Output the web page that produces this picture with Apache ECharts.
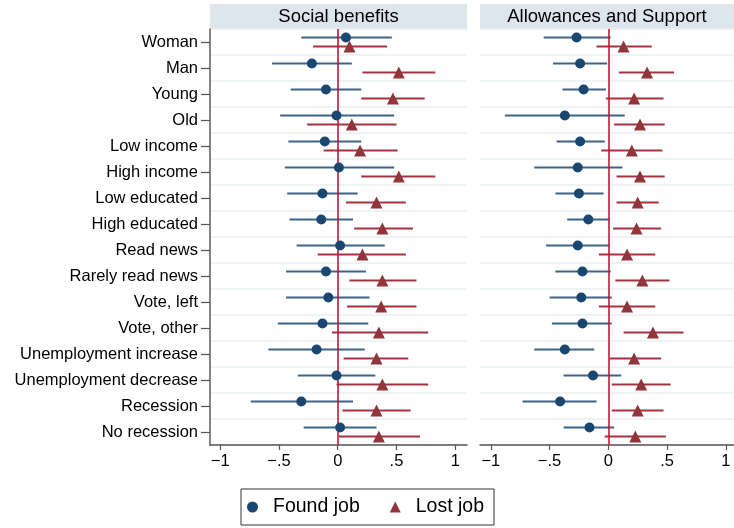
<!DOCTYPE html>
<html>
<head>
<meta charset="utf-8">
<script src="https://cdn.jsdelivr.net/npm/echarts@6/dist/echarts.min.js"></script>
<style>
  html, body { margin: 0; padding: 0; background: #fff; }
  #chart { width: 734px; height: 528px; }
</style>
</head>
<body>
<div id="chart"></div>
<script>
// categories, top to bottom
var categories = ['Woman', 'Man', 'Young', 'Old', 'Low income', 'High income', 'Low educated',
    'High educated', 'Read news', 'Rarely read news', 'Vote, left', 'Vote, other',
    'Unemployment increase', 'Unemployment decrease', 'Recession', 'No recession'];
var panelTitles = ['Social benefits', 'Allowances and Support'];
var tickValues = [-1, -0.5, 0, 0.5, 1];

// Social benefits
var socFoundEst = [0.07, -0.22, -0.10, -0.01, -0.11, 0.01, -0.13, -0.14, 0.02, -0.10, -0.08, -0.13, -0.18, -0.01, -0.31, 0.02];
var socFoundLo = [-0.31, -0.56, -0.40, -0.49, -0.42, -0.45, -0.43, -0.41, -0.35, -0.44, -0.44, -0.51, -0.59, -0.34, -0.74, -0.29];
var socFoundHi = [0.46, 0.12, 0.20, 0.48, 0.20, 0.48, 0.17, 0.13, 0.40, 0.24, 0.27, 0.26, 0.23, 0.32, 0.13, 0.33];
var socLostEst = [0.10, 0.52, 0.47, 0.12, 0.19, 0.52, 0.33, 0.38, 0.21, 0.38, 0.37, 0.35, 0.33, 0.38, 0.33, 0.35];
var socLostLo = [-0.21, 0.21, 0.20, -0.26, -0.12, 0.20, 0.07, 0.14, -0.17, 0.10, 0.08, -0.05, 0.05, -0.01, 0.04, 0.01];
var socLostHi = [0.42, 0.83, 0.74, 0.50, 0.51, 0.83, 0.58, 0.64, 0.58, 0.67, 0.67, 0.77, 0.60, 0.77, 0.62, 0.70];

// Allowances and Support
var allFoundEst = [-0.27, -0.24, -0.21, -0.37, -0.24, -0.26, -0.25, -0.17, -0.26, -0.22, -0.23, -0.22, -0.37, -0.13, -0.41, -0.16];
var allFoundLo = [-0.55, -0.47, -0.39, -0.88, -0.44, -0.63, -0.45, -0.35, -0.53, -0.45, -0.50, -0.48, -0.63, -0.38, -0.73, -0.38];
var allFoundHi = [0.02, -0.01, -0.02, 0.14, -0.03, 0.12, -0.04, 0.01, 0.01, 0.02, 0.03, 0.03, -0.12, 0.11, -0.10, 0.05];
var allLostEst = [0.13, 0.33, 0.22, 0.27, 0.20, 0.27, 0.25, 0.24, 0.16, 0.29, 0.16, 0.38, 0.22, 0.28, 0.25, 0.23];
var allLostLo = [-0.10, 0.09, -0.02, 0.05, -0.06, 0.07, 0.07, 0.04, -0.08, 0.06, -0.08, 0.13, 0.01, 0.03, 0.03, -0.03];
var allLostHi = [0.37, 0.56, 0.47, 0.48, 0.46, 0.48, 0.43, 0.45, 0.40, 0.52, 0.40, 0.64, 0.45, 0.53, 0.47, 0.49];

var FONT = "'Liberation Sans', Arial, Helvetica, sans-serif";
var NAVY = '#1a476f', NAVY_LINE = '#3d6588';
var MAROON = '#90353b', MAROON_LINE = '#a3343f';
var SHIFT = 0.17; // found job drawn a bit above, lost job a bit below

var panels = [
    { left: 210, width: 257, min: -1.087, max: 1.10,
      found: [socFoundEst, socFoundLo, socFoundHi], lost: [socLostEst, socLostLo, socLostHi] },
    { left: 480, width: 254, min: -1.092, max: 1.07,
      found: [allFoundEst, allFoundLo, allFoundHi], lost: [allLostEst, allLostLo, allLostHi] }
];

function fmtTick(v) {
    if (v === 0) return '0';
    var s = String(Math.abs(v)).replace(/^0\./, '.');
    return (v < 0 ? '\u2212' : '') + s;
}

// horizontal error bars
function barSeries(p, arr, shift, color, z, withZeroLine) {
    var data = categories.map(function (c, i) { return [arr[1][i], arr[2][i], i + shift]; });
    var s = {
        type: 'custom',
        xAxisIndex: p, yAxisIndex: p * 2 + 1,
        z: z, silent: true,
        data: data,
        renderItem: function (params, api) {
            var a = api.coord([api.value(0), api.value(2)]);
            var b = api.coord([api.value(1), api.value(2)]);
            return { type: 'line', shape: { x1: a[0], y1: a[1], x2: b[0], y2: b[1] },
                     style: { stroke: color, lineWidth: 2 } };
        }
    };
    if (withZeroLine) {
        s.markLine = {
            silent: true, symbol: 'none', z: 3, label: { show: false },
            lineStyle: { color: '#d0103a', width: 1.6, type: 'solid' },
            data: [{ xAxis: 0 }]
        };
    }
    return s;
}

function pointSeries(p, name, est, shift, symbol, size, color) {
    return {
        type: 'scatter', name: name,
        xAxisIndex: p, yAxisIndex: p * 2 + 1,
        z: 6, symbol: symbol, symbolSize: size,
        itemStyle: { color: color, opacity: 1 },
        data: est.map(function (v, i) { return [v, i + shift]; })
    };
}

var grids = [], xAxes = [], yAxes = [], series = [], graphics = [];
panels.forEach(function (pn, p) {
    grids.push({ left: pn.left, top: 29, width: pn.width, height: 416 });
    xAxes.push({
        type: 'value', gridIndex: p, min: pn.min, max: pn.max, position: 'bottom',
        axisLine: { show: true, onZero: false, lineStyle: { color: '#555', width: 1.5 } },
        axisTick: { show: true, length: 5, customValues: tickValues, lineStyle: { color: '#555', width: 1.2 } },
        axisLabel: { customValues: tickValues, formatter: fmtTick, margin: 8,
                     color: '#000', fontSize: 16.5, fontFamily: FONT },
        splitLine: { show: false }
    });
    yAxes.push({
        type: 'category', gridIndex: p, inverse: true, data: categories, boundaryGap: true, position: 'left',
        axisLine: { show: p === 0, onZero: false, lineStyle: { color: '#666', width: 1.6 } },
        axisTick: { show: p === 0, alignWithLabel: true, interval: 0, length: 9, lineStyle: { color: '#555', width: 1.2 } },
        axisLabel: { show: p === 0, interval: 0, margin: 12, color: '#000', fontSize: 16.5, fontFamily: FONT },
        splitLine: { show: true, interval: 0, lineStyle: { color: '#e8eff2', width: 1.5 } }
    });
    yAxes.push({
        type: 'value', gridIndex: p, inverse: true, min: -0.5, max: categories.length - 0.5, show: false,
        axisLine: { onZero: false }
    });
    series.push(barSeries(p, pn.found, -SHIFT, NAVY_LINE, 2, false));
    series.push(barSeries(p, pn.lost, SHIFT, MAROON_LINE, 2, true));
    series.push(pointSeries(p, 'Found job', pn.found[0], -SHIFT, 'circle', 10, NAVY));
    series.push(pointSeries(p, 'Lost job', pn.lost[0], SHIFT, 'triangle', 12, MAROON));

    graphics.push({
        type: 'rect', left: pn.left, top: 4, silent: true,
        shape: { width: pn.width, height: 25 }, style: { fill: '#dce6ec' }
    });
    graphics.push({
        type: 'text', x: pn.left + pn.width / 2, y: 17, silent: true,
        style: { text: panelTitles[p], fill: '#000', font: '18.5px ' + FONT,
                 textAlign: 'center', textVerticalAlign: 'middle' }
    });
});

var myChart = echarts.init(document.getElementById('chart'));
myChart.setOption({
    animation: false,
    backgroundColor: '#fff',
    grid: grids,
    xAxis: xAxes,
    yAxis: yAxes,
    series: series,
    graphic: graphics,
    legend: {
        data: ['Found job', 'Lost job'],
        left: 241, top: 489,
        orient: 'horizontal',
        borderColor: '#333', borderWidth: 1, borderRadius: 0,
        padding: [8, 10, 8, 6],
        itemGap: 30, itemWidth: 11, itemHeight: 11,
        selectedMode: false,
        textStyle: { fontSize: 19.5, fontFamily: FONT, color: '#000', padding: [0, 0, 0, 10] }
    }
});
</script>
</body>
</html>
